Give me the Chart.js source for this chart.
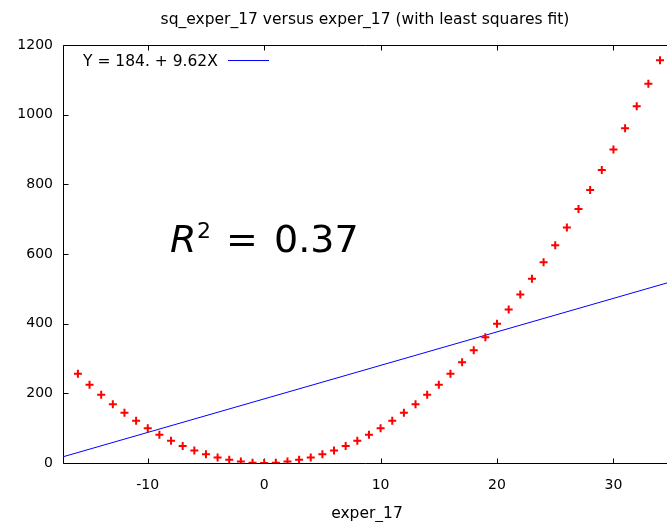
<!DOCTYPE html>
<html>
<head>
<meta charset="utf-8">
<script src="https://cdn.jsdelivr.net/npm/chart.js"></script>
<style>
  html, body { margin: 0; padding: 0; background: #fff; overflow: hidden; }
  #wrap { width: 667px; height: 522px; }
</style>
</head>
<body>
<div id="wrap"><canvas id="chart" width="667" height="522"></canvas></div>
<script>
// datos
const experX = [-16, -15, -14, -13, -12, -11, -10, -9, -8, -7, -6, -5, -4, -3, -2, -1, 0,
  1, 2, 3, 4, 5, 6, 7, 8, 9, 10, 11, 12, 13, 14, 15, 16, 17, 18, 19, 20,
  21, 22, 23, 24, 25, 26, 27, 28, 29, 30, 31, 32, 33, 34];
const sqExperY = [256, 225, 196, 169, 144, 121, 100, 81, 64, 49, 36, 25, 16, 9, 4, 1, 0,
  1, 4, 9, 16, 25, 36, 49, 64, 81, 100, 121, 144, 169, 196, 225, 256, 289, 324, 361, 400,
  441, 484, 529, 576, 625, 676, 729, 784, 841, 900, 961, 1024, 1089, 1156];

// recta de ajuste (extremos del eje)
const fitX = [-17.28, 34.6];
const fitY = [17.8, 516.9];

const xTicks = [-10, 0, 10, 20, 30];
const yTicks = [0, 200, 400, 600, 800, 1000, 1200];

const titleText = 'sq_exper_17 versus exper_17 (with least squares fit)';
const xLabelText = 'exper_17';
const legendText = 'Y = 184. + 9.62X';

const FONT = '"DejaVu Sans", sans-serif';

// marco + marcas hacia dentro (estilo gnuplot)
const framePlugin = {
  id: 'frame',
  beforeDatasetsDraw(chart) {
    const { ctx, chartArea: { left, top, right, bottom }, scales: { x, y } } = chart;
    ctx.save();
    ctx.strokeStyle = '#000';
    ctx.lineWidth = 1;
    ctx.beginPath();
    const l = Math.round(left) + 0.5, t = Math.round(top) + 0.5, b = Math.round(bottom) + 0.5;
    ctx.moveTo(right + 5, t);
    ctx.lineTo(l, t);
    ctx.lineTo(l, b);
    ctx.lineTo(right + 5, b);
    xTicks.forEach(v => {
      const px = Math.round(x.getPixelForValue(v)) + 0.5;
      ctx.moveTo(px, b); ctx.lineTo(px, b - 5);
      ctx.moveTo(px, t); ctx.lineTo(px, t + 5);
    });
    yTicks.forEach(v => {
      const py = Math.round(y.getPixelForValue(v)) + 0.5;
      ctx.moveTo(l, py); ctx.lineTo(l + 5, py);
    });
    ctx.stroke();
    ctx.restore();
  },
  afterDraw(chart) {
    const { ctx, chartArea: { left, right } } = chart;
    const cx = (left + right) / 2;
    ctx.save();
    ctx.fillStyle = '#000';
    ctx.textBaseline = 'alphabetic';
    ctx.textAlign = 'center';
    ctx.font = '15.5px ' + FONT;
    ctx.fillText(titleText, cx, 24);
    ctx.fillText(xLabelText, cx + 2, 518);

    // leyenda
    ctx.textAlign = 'left';
    ctx.fillText(legendText, 83, 66);
    ctx.strokeStyle = '#0000ff';
    ctx.lineWidth = 1;
    ctx.beginPath();
    ctx.moveTo(228, 60.5);
    ctx.lineTo(269, 60.5);
    ctx.stroke();

    // R^2
    ctx.font = 'italic 38px ' + FONT;
    ctx.fillText('R', 170, 252);
    ctx.font = '22px ' + FONT;
    ctx.fillText('2', 197, 238);
    ctx.font = '38px ' + FONT;
    ctx.fillText('=', 226, 252);
    ctx.fillText('0.37', 274, 252);
    ctx.restore();
  }
};

new Chart(document.getElementById('chart'), {
  type: 'scatter',
  data: {
    datasets: [
      {
        label: 'sq_exper_17',
        data: experX.map((v, i) => ({ x: v, y: sqExperY[i] })),
        pointStyle: 'cross',
        pointRadius: 4,
        borderColor: '#ff0000',
        backgroundColor: '#ff0000',
        borderWidth: 2,
        showLine: false
      },
      {
        label: legendText,
        data: fitX.map((v, i) => ({ x: v, y: fitY[i] })),
        showLine: true,
        pointRadius: 0,
        borderColor: '#0000ff',
        borderWidth: 1,
        fill: false
      }
    ]
  },
  options: {
    responsive: false,
    animation: false,
    devicePixelRatio: 1,
    layout: { autoPadding: false, padding: { top: 45, right: 0, left: 0, bottom: 0 } },
    plugins: {
      legend: { display: false },
      title: { display: false },
      tooltip: { enabled: false }
    },
    scales: {
      x: {
        type: 'linear',
        min: -17.28,
        max: 34.6,
        grid: { display: false, drawTicks: false },
        border: { display: false },
        afterBuildTicks: s => { s.ticks = xTicks.map(v => ({ value: v })); },
        afterFit: s => { s.height = 59; },
        ticks: {
          padding: 14,
          color: '#000',
          font: { family: FONT, size: 14 },
          maxRotation: 0,
          autoSkip: false,
          callback: v => String(v)
        }
      },
      y: {
        type: 'linear',
        min: 0,
        max: 1200,
        grid: { display: false, drawTicks: false },
        border: { display: false },
        afterBuildTicks: s => { s.ticks = yTicks.map(v => ({ value: v })); },
        afterFit: s => { s.width = 63; },
        ticks: {
          padding: 10,
          color: '#000',
          font: { family: FONT, size: 14 },
          autoSkip: false,
          callback: v => String(v)
        }
      }
    }
  },
  plugins: [framePlugin]
});
</script>
</body>
</html>
